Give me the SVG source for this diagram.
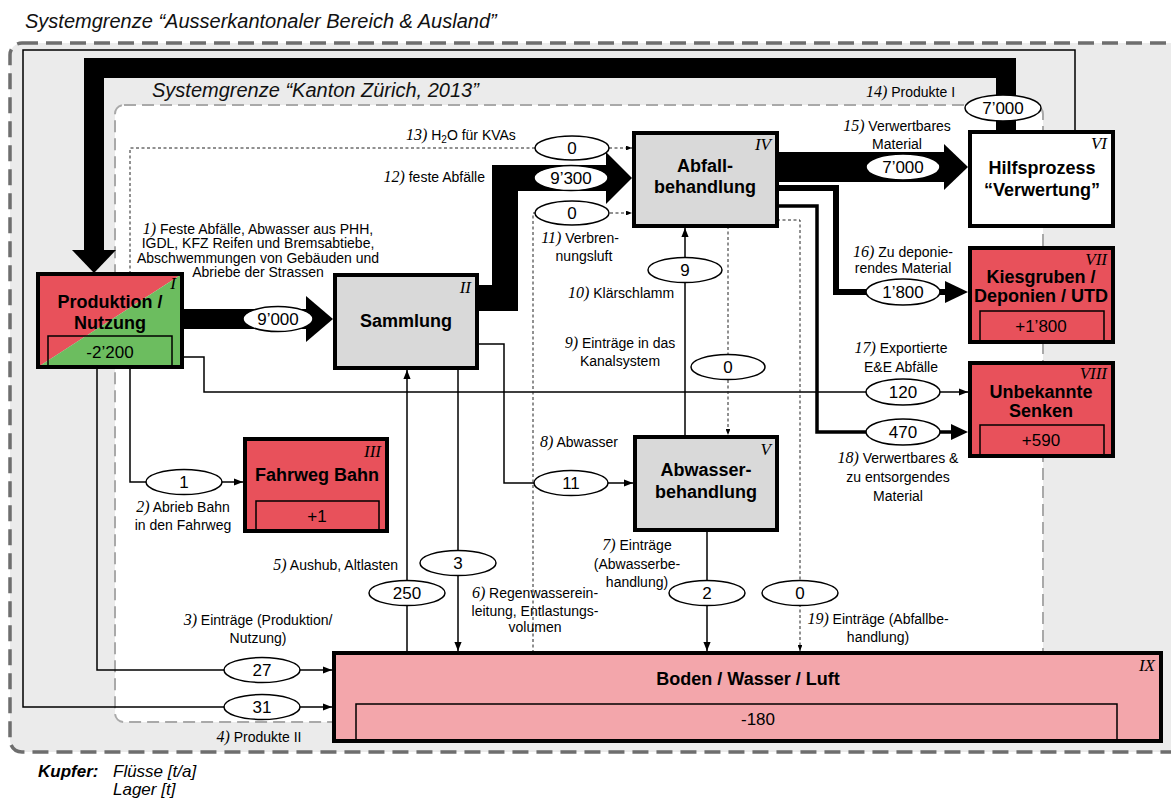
<svg xmlns="http://www.w3.org/2000/svg" width="1171" height="799" viewBox="0 0 1171 799">
  <style>
    .box { stroke: #000; stroke-width: 4; }
    .gray { fill: #d9d9d9; }
    .red { fill: #e8515b; }
    .pink { fill: #f3a6ab; }
    .white { fill: #fff; }
    .stock { fill: none; stroke: #000; stroke-width: 1.5; }
    .ttl { font: bold 18px "Liberation Sans", Arial, sans-serif; text-anchor: middle; fill: #000; }
    .val { font: 17px "Liberation Sans", Arial, sans-serif; text-anchor: middle; fill: #000; }
    .rom { font: italic 17px "Liberation Serif", "Times New Roman", serif; text-anchor: end; fill: #000; }
    .lbl { font: 14px "Liberation Sans", Arial, sans-serif; fill: #000; }
    .mid { text-anchor: middle; }
    .end { text-anchor: end; }
    .no { font-family: "Liberation Serif", "Times New Roman", serif; font-style: italic; font-size: 16px; }
    .ell { fill: #fff; stroke: #000; stroke-width: 1.5; }
    .flow { fill: none; stroke: #000; stroke-width: 1.5; }
    .dash { fill: none; stroke: #222; stroke-width: 1; stroke-dasharray: 3 2.5; }
    .thick { fill: none; stroke: #000; stroke-linejoin: miter; }
    .sys { font: italic 20px "Liberation Sans", Arial, sans-serif; fill: #111; }
    .leg { font: italic 17px "Liberation Sans", Arial, sans-serif; fill: #000; }
    .legb { font: bold italic 17px "Liberation Sans", Arial, sans-serif; fill: #000; }
  </style>
  <defs>
    <marker id="arr" viewBox="0 0 10 8" refX="10" refY="4" markerWidth="9" markerHeight="7.2" markerUnits="userSpaceOnUse" orient="auto">
      <path d="M0,0 L10,4 L0,8 z" fill="#000"/>
    </marker>
    <marker id="arrs" viewBox="0 0 10 8" refX="10" refY="4" markerWidth="6" markerHeight="4.8" markerUnits="userSpaceOnUse" orient="auto">
      <path d="M0,0 L10,4 L0,8 z" fill="#000"/>
    </marker>
  </defs>

  <!-- system boundaries -->
  <g id="boundaries">
    <rect x="10" y="43" width="1200" height="709" rx="12" fill="#ebebeb" stroke="#6e6e6e" stroke-width="3.5" stroke-dasharray="16 8"/>
    <rect x="115" y="105" width="928" height="617" rx="9" fill="#fff" stroke="#a9a9a9" stroke-width="2" stroke-dasharray="12 6"/>
    <text class="sys" x="25" y="28">Systemgrenze “Ausserkantonaler Bereich &amp; Ausland”</text>
    <text class="sys" x="152" y="97">Systemgrenze “Kanton Zürich, 2013”</text>
  </g>

  <!-- flows -->
  <g id="connectors">
    <!-- 14 Produkte I -->
    <path class="thick" stroke-width="20" d="M1006,132 V68 H94 V252"/>
    <polygon points="72,250 116,250 94,273"/>
    <!-- 4 Produkte II -->
    <path class="flow" d="M1075,132 V50 H23 V707 H332" marker-end="url(#arr)"/>
    <!-- 1 Sammlung input -->
    <path class="thick" stroke-width="20" d="M182,319 H308"/>
    <polygon points="306,296 306,342 333,319"/>
    <!-- 12 feste Abfälle -->
    <path class="thick" stroke-width="26" d="M476,298 H505 V178 H608"/>
    <polygon points="606,152 606,204 632,178"/>
    <!-- 15 verwertbares Material -->
    <path class="thick" stroke-width="30" d="M776,167 H946"/>
    <polygon points="944,144 944,190 968,167"/>
    <!-- 16 zu deponierendes Material -->
    <path class="thick" stroke-width="6" d="M776,188 H836 V292 H948"/>
    <polygon points="945,281 945,303 968,292"/>
    <!-- 18 verwertbares & zu entsorgendes Material -->
    <path class="thick" stroke-width="3.5" d="M776,206 H817 V432 H952"/>
    <polygon points="951,424 951,440 968,432"/>
    <!-- 17 exportierte E&E Abfälle -->
    <path class="flow" d="M182,357 H204 V392 H968" marker-end="url(#arr)"/>
    <!-- 2 Abrieb Bahn -->
    <path class="flow" d="M130,367 V482 H243" marker-end="url(#arr)"/>
    <!-- 3 Einträge Produktion/Nutzung -->
    <path class="flow" d="M97,367 V670 H332" marker-end="url(#arr)"/>
    <!-- 5 Aushub, Altlasten -->
    <path class="flow" d="M407,653 V370" marker-end="url(#arr)"/>
    <!-- 6 Regenwassereinleitung -->
    <path class="flow" d="M458,368 V651" marker-end="url(#arr)"/>
    <!-- 7 Einträge Abwasserbehandlung -->
    <path class="flow" d="M707,530 V651" marker-end="url(#arr)"/>
    <!-- 8 Abwasser -->
    <path class="flow" d="M477,344 H504 V483 H633" marker-end="url(#arr)"/>
    <!-- 10 Klärschlamm -->
    <path class="flow" d="M685,437 V228" marker-end="url(#arr)"/>
    <!-- 9 Einträge Kanalsystem -->
    <path class="dash" d="M728,226 V435" marker-end="url(#arrs)"/>
    <!-- 11 Verbrennungsluft -->
    <path class="dash" d="M533,653 V213 H632" marker-end="url(#arrs)"/>
    <!-- 13 H2O für KVAs -->
    <path class="dash" d="M130,274 V148 H632" marker-end="url(#arrs)"/>
    <!-- 19 Einträge Abfallbehandlung -->
    <path class="dash" d="M777,220 H800 V651" marker-end="url(#arrs)"/>
  </g>

  <!-- processes -->
  <g id="node-produktion">
    <polygon class="red" points="38,274 182,274 38,367"/>
    <polygon points="182,274 182,367 38,367" fill="#6cbd5f"/>
    <rect class="box" x="38" y="274" width="144" height="93" fill="none"/>
    <path class="stock" d="M48,367 V336 H172 V367"/>
    <text class="ttl" x="110" y="308">Produktion /</text>
    <text class="ttl" x="110" y="329">Nutzung</text>
    <text class="val" x="110" y="358">-2’200</text>
    <text class="rom" x="176" y="289">I</text>
  </g>
  <g id="node-sammlung">
    <rect class="box gray" x="335" y="275" width="142" height="93"/>
    <text class="ttl" x="406" y="327">Sammlung</text>
    <text class="rom" x="471" y="293">II</text>
  </g>
  <g id="node-fahrweg">
    <rect class="box red" x="245" y="439" width="142" height="92"/>
    <path class="stock" d="M256,531 V501 H379 V531"/>
    <text class="ttl" x="317" y="481">Fahrweg Bahn</text>
    <text class="val" x="317" y="522">+1</text>
    <text class="rom" x="381" y="457">III</text>
  </g>
  <g id="node-abfall">
    <rect class="box gray" x="634" y="133" width="143" height="93"/>
    <text class="ttl" x="705" y="172">Abfall-</text>
    <text class="ttl" x="705" y="193">behandlung</text>
    <text class="rom" x="771" y="150">IV</text>
  </g>
  <g id="node-abwasser">
    <rect class="box gray" x="635" y="437" width="142" height="93"/>
    <text class="ttl" x="706" y="476">Abwasser-</text>
    <text class="ttl" x="706" y="498">behandlung</text>
    <text class="rom" x="771" y="455">V</text>
  </g>
  <g id="node-hilfsprozess">
    <rect class="box white" x="970" y="132" width="143" height="94"/>
    <text class="ttl" x="1042" y="174">Hilfsprozess</text>
    <text class="ttl" x="1042" y="196">“Verwertung”</text>
    <text class="rom" x="1107" y="149">VI</text>
  </g>
  <g id="node-kiesgruben">
    <rect class="box red" x="970" y="248" width="143" height="94"/>
    <path class="stock" d="M980,342 V311 H1104 V342"/>
    <text class="ttl" x="1041" y="283">Kiesgruben /</text>
    <text class="ttl" x="1041" y="302">Deponien / UTD</text>
    <text class="val" x="1041" y="332">+1’800</text>
    <text class="rom" x="1107" y="265">VII</text>
  </g>
  <g id="node-senken">
    <rect class="box red" x="970" y="363" width="143" height="93"/>
    <path class="stock" d="M980,456 V425 H1104 V456"/>
    <text class="ttl" x="1041" y="398">Unbekannte</text>
    <text class="ttl" x="1041" y="417">Senken</text>
    <text class="val" x="1041" y="446">+590</text>
    <text class="rom" x="1107" y="379">VIII</text>
  </g>
  <g id="node-boden">
    <rect class="box pink" x="334" y="653" width="827" height="88"/>
    <path class="stock" d="M356,741 V704 H1117 V741"/>
    <text class="ttl" x="748" y="685">Boden / Wasser / Luft</text>
    <text class="val" x="758" y="725">-180</text>
    <text class="rom" x="1155" y="671">IX</text>
  </g>

  <!-- flow values -->
  <g id="flow-values">
    <ellipse class="ell" cx="1003" cy="108" rx="38" ry="13"/><text class="val" x="1003" y="114">7’000</text>
    <ellipse class="ell" cx="903" cy="167" rx="37" ry="13"/><text class="val" x="903" y="173">7’000</text>
    <ellipse class="ell" cx="572" cy="148" rx="37" ry="12"/><text class="val" x="572" y="154">0</text>
    <ellipse class="ell" cx="571" cy="178" rx="37" ry="12.5"/><text class="val" x="571" y="184">9’300</text>
    <ellipse class="ell" cx="572" cy="213" rx="37" ry="12"/><text class="val" x="572" y="219">0</text>
    <ellipse class="ell" cx="685" cy="270" rx="37" ry="12.5"/><text class="val" x="685" y="276">9</text>
    <ellipse class="ell" cx="278" cy="319" rx="35" ry="12.5"/><text class="val" x="278" y="325">9’000</text>
    <ellipse class="ell" cx="903" cy="292" rx="37" ry="13"/><text class="val" x="903" y="298">1’800</text>
    <ellipse class="ell" cx="728" cy="367" rx="37" ry="12.5"/><text class="val" x="728" y="373">0</text>
    <ellipse class="ell" cx="903" cy="392" rx="37" ry="13"/><text class="val" x="903" y="398">120</text>
    <ellipse class="ell" cx="903" cy="432" rx="37" ry="13"/><text class="val" x="903" y="438">470</text>
    <ellipse class="ell" cx="571" cy="483" rx="37" ry="12.5"/><text class="val" x="571" y="489">11</text>
    <ellipse class="ell" cx="184" cy="482" rx="38" ry="12.5"/><text class="val" x="184" y="488">1</text>
    <ellipse class="ell" cx="458" cy="563" rx="38" ry="12.5"/><text class="val" x="458" y="569">3</text>
    <ellipse class="ell" cx="407" cy="593" rx="38" ry="12.5"/><text class="val" x="407" y="599">250</text>
    <ellipse class="ell" cx="707" cy="593" rx="38" ry="12.5"/><text class="val" x="707" y="599">2</text>
    <ellipse class="ell" cx="800" cy="593" rx="38" ry="12.5"/><text class="val" x="800" y="599">0</text>
    <ellipse class="ell" cx="262" cy="670" rx="38" ry="12.5"/><text class="val" x="262" y="676">27</text>
    <ellipse class="ell" cx="262" cy="707" rx="38" ry="12.5"/><text class="val" x="262" y="713">31</text>
  </g>

  <!-- flow names -->
  <g id="flow-labels" class="lbl">
    <text class="mid" x="258" y="234"><tspan class="no">1)</tspan> Feste Abfälle, Abwasser aus PHH,</text>
    <text class="mid" x="258" y="248">IGDL, KFZ Reifen und Bremsabtiebe,</text>
    <text class="mid" x="258" y="263">Abschwemmungen von Gebäuden und</text>
    <text class="mid" x="258" y="277">Abriebe der Strassen</text>
    <text class="mid" x="183" y="512"><tspan class="no">2)</tspan> Abrieb Bahn</text>
    <text class="mid" x="183" y="530">in den Fahrweg</text>
    <text class="mid" x="258" y="625"><tspan class="no">3)</tspan> Einträge (Produktion/</text>
    <text class="mid" x="258" y="643">Nutzung)</text>
    <text class="mid" x="259" y="742"><tspan class="no">4)</tspan> Produkte II</text>
    <text class="end" x="398" y="570"><tspan class="no">5)</tspan> Aushub, Altlasten</text>
    <text class="mid" x="535" y="598"><tspan class="no">6)</tspan> Regenwasserein-</text>
    <text class="mid" x="535" y="616">leitung, Entlastungs-</text>
    <text class="mid" x="535" y="632">volumen</text>
    <text class="mid" x="637" y="550"><tspan class="no">7)</tspan> Einträge</text>
    <text class="mid" x="637" y="569">(Abwasserbe-</text>
    <text class="mid" x="637" y="587">handlung)</text>
    <text x="540" y="447"><tspan class="no">8)</tspan> Abwasser</text>
    <text class="mid" x="620" y="348"><tspan class="no">9)</tspan> Einträge in das</text>
    <text class="mid" x="620" y="366">Kanalsystem</text>
    <text x="568" y="298"><tspan class="no">10)</tspan> Klärschlamm</text>
    <text class="mid" x="580" y="243"><tspan class="no">11)</tspan> Verbren-</text>
    <text class="mid" x="584" y="261">nungsluft</text>
    <text class="end" x="485" y="182"><tspan class="no">12)</tspan> feste Abfälle</text>
    <text x="406" y="140"><tspan class="no">13)</tspan> H<tspan font-size="10" dy="3">2</tspan><tspan dy="-3">O für KVAs</tspan></text>
    <text x="866" y="97"><tspan class="no">14)</tspan> Produkte I</text>
    <text class="mid" x="897" y="131"><tspan class="no">15)</tspan> Verwertbares</text>
    <text class="mid" x="897" y="149">Material</text>
    <text class="mid" x="903" y="257"><tspan class="no">16)</tspan> Zu deponie-</text>
    <text class="mid" x="903" y="273">rendes Material</text>
    <text class="mid" x="901" y="353"><tspan class="no">17)</tspan> Exportierte</text>
    <text class="mid" x="901" y="372">E&amp;E Abfälle</text>
    <text class="mid" x="898" y="463"><tspan class="no">18)</tspan> Verwertbares &amp;</text>
    <text class="mid" x="898" y="482">zu entsorgendes</text>
    <text class="mid" x="898" y="501">Material</text>
    <text class="mid" x="878" y="624"><tspan class="no">19)</tspan> Einträge (Abfallbe-</text>
    <text class="mid" x="878" y="642">handlung)</text>
  </g>

  <!-- legend -->
  <g id="legend">
    <text class="legb" x="38" y="777">Kupfer:</text>
    <text class="leg" x="113" y="777">Flüsse [t/a]</text>
    <text class="leg" x="113" y="795">Lager [t]</text>
  </g>
</svg>
